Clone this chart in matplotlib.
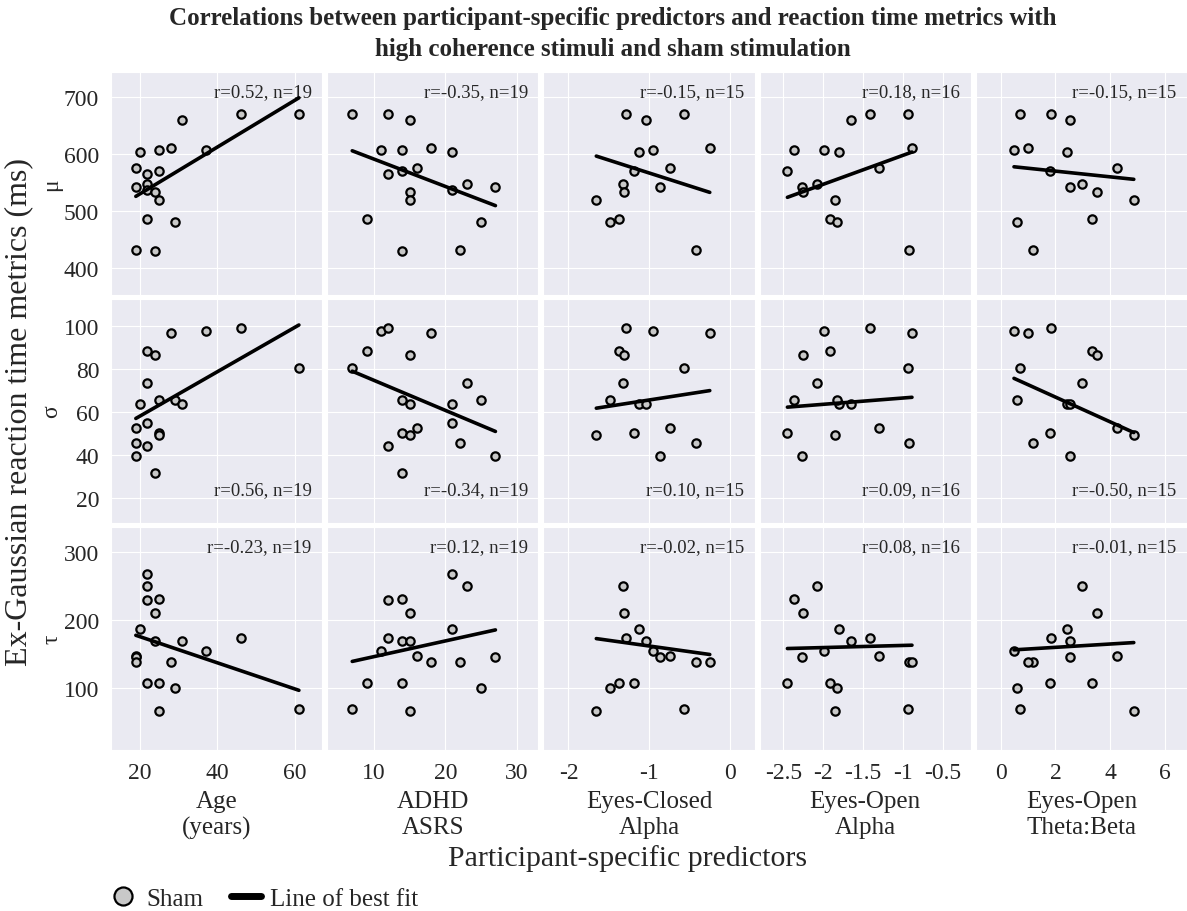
import numpy as np
import matplotlib
matplotlib.use('Agg')
import matplotlib.pyplot as plt
import seaborn as sns
from matplotlib.lines import Line2D

sns.set_style('darkgrid')
plt.rcParams['font.family'] = ['Liberation Serif', 'DejaVu Serif']
plt.rcParams['axes.unicode_minus'] = False

nan = np.nan

# one entry per participant (NaN = no EEG recording for that measure)
age = [19, 19, 19, 20, 22, 22, 22, 22, 24, 24, 25, 25, 25, 28, 29, 31, 37, 46, 61]
adhd_asrs = [16, 27, 22, 21, 12, 23, 21, 9, 15, 14, 14, 14, 15, 18, 25, 15, 11, 12, 7]
ec_alpha = [-0.744, -0.867, -0.429, -1.133, nan, -1.329, nan, -1.378, -1.317, nan,
            nan, -1.194, -1.656, -0.254, -1.493, -1.043, -0.961, -1.288, -0.573]
eo_alpha = [-1.302, -2.271, -0.930, -1.806, nan, -2.084, nan, -1.916, -2.260, nan,
            -2.369, -2.451, -1.859, -0.888, -1.827, -1.651, -1.998, -1.410, -0.935]
eo_theta_beta = [4.27, 2.55, 1.17, 2.44, nan, 2.96, nan, 3.34, 3.51, nan,
                 nan, 1.80, 4.87, 0.98, 0.59, 2.55, 0.48, 1.85, 0.70]

mu = [574, 542, 432, 603, 565, 546, 537, 486, 533, 429, 607, 569, 518, 610, 480, 659, 607, 669, 669]
sigma = [52.6, 39.6, 45.3, 63.7, 44.2, 73.6, 54.6, 88.3, 86.6, 31.6,
         65.7, 50.3, 49.2, 96.6, 65.3, 63.7, 97.5, 99.1, 80.5]
tau = [146.8, 145.5, 138.0, 187.8, 229.8, 250.2, 267.8, 108.3, 210.2, 169.8,
       231.7, 108.3, 66.8, 139.0, 100.0, 169.8, 154.6, 173.7, 69.8]

predictors = [age, adhd_asrs, ec_alpha, eo_alpha, eo_theta_beta]
predictor_labels = ['Age\n(years)', 'ADHD\nASRS', 'Eyes-Closed\nAlpha', 'Eyes-Open\nAlpha', 'Eyes-Open\nTheta:Beta']
metrics = [mu, sigma, tau]
metric_labels = ['μ', 'σ', 'τ']

# reported correlation and best-fit line (slope, intercept) for each metric x predictor
r_values = [[0.52, -0.35, -0.15, 0.18, -0.15],
            [0.56, -0.34, 0.10, 0.09, -0.50],
            [-0.23, 0.12, -0.02, 0.08, -0.01]]
fit_slope = [[4.107, -4.80, -45.3, 50.7, -5.00],
             [1.038, -1.405, 5.85, 2.94, -5.76],
             [-1.93, 2.32, -16.7, 3.13, 2.44]]
fit_intercept = [[447.2, 638.6, 520.7, 647.8, 579.4],
                 [37.2, 88.8, 71.4, 69.4, 78.4],
                 [214.7, 123.3, 145.5, 166.2, 155.4]]

x_ticks = [[20, 40, 60], [10, 20, 30], [-2, -1, 0], [-2.5, -2, -1.5, -1, -0.5], [0, 2, 4, 6]]
x_limits = [(12.6, 67), (3.5, 33), (-2.31, 0.30), (-2.80, -0.15), (-0.92, 6.82)]
y_ticks = [[400, 500, 600, 700], [20, 40, 60, 80, 100], [100, 200, 300]]
y_limits = [(352, 743), (8.3, 112.5), (9, 338)]

fig, axes = plt.subplots(3, 5, figsize=(11.87, 9.12), dpi=100, sharex='col', sharey='row')
fig.subplots_adjust(left=0.0935, right=1.0, top=0.92, bottom=0.1765, wspace=0.0236, hspace=0.018)

for i, metric in enumerate(metrics):
    for j, pred in enumerate(predictors):
        ax = axes[i, j]
        x = np.array(pred, dtype=float)
        y = np.array(metric, dtype=float)
        keep = ~np.isnan(x)
        x, y = x[keep], y[keep]
        ax.scatter(x, y, s=36, color='#c8c8c8', edgecolors='black', linewidths=1.6, zorder=3)
        xs = np.array([x.min(), x.max()])
        ax.plot(xs, fit_slope[i][j] * xs + fit_intercept[i][j], color='black', lw=2.6, zorder=4)
        ypos = 0.147 if i == 1 else 0.91
        ax.text(0.95, ypos, f'r={r_values[i][j]:.2f}, n={len(x)}', transform=ax.transAxes,
                ha='right', va='center', fontsize=13.5)
        ax.set_xlim(x_limits[j])
        ax.set_ylim(y_limits[i])
        ax.set_xticks(x_ticks[j])
        ax.set_xticklabels([f'{t:g}' for t in x_ticks[j]])
        ax.set_yticks(y_ticks[i])
        ax.tick_params(labelsize=17, pad=5)
        if j == 0:
            ax.set_ylabel(metric_labels[i], fontsize=17, labelpad=1)
        if i == 2:
            ax.set_xlabel(predictor_labels[j], fontsize=18, labelpad=5, linespacing=1.25)

fig.text(0.016, 0.548, 'Ex-Gaussian reaction time metrics (ms)', rotation=90,
         ha='center', va='center', fontsize=23)
fig.text(0.529, 0.059, 'Participant-specific predictors', ha='center', va='center', fontsize=21.5)
fig.text(0.516, 0.9625, 'Correlations between participant-specific predictors and reaction time metrics with\n'
         'high coherence stimuli and sham stimulation', ha='center', va='center',
         fontsize=18, fontweight='bold', linespacing=1.45)

handles = [Line2D([], [], marker='o', ls='none', markersize=13, markerfacecolor='#c8c8c8',
                  markeredgecolor='black', markeredgewidth=1.6),
           Line2D([], [], color='black', lw=5)]
fig.legend(handles, ['Sham', 'Line of best fit'], loc='center left', bbox_to_anchor=(0.072, 0.0135),
           frameon=False, fontsize=18, handlelength=1.2, handletextpad=0.35, columnspacing=1.1, ncol=2)

fig.savefig('out.png', dpi=100)
